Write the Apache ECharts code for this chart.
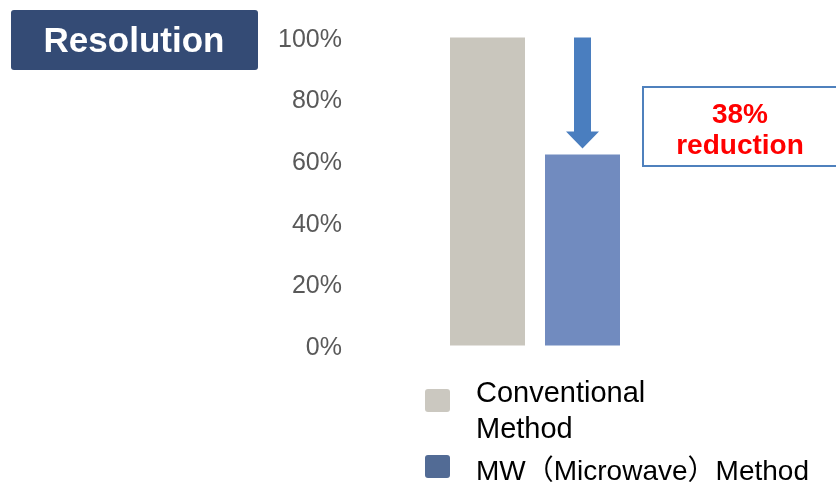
<!DOCTYPE html>
<html>
<head>
<meta charset="utf-8">
<script src="https://cdn.jsdelivr.net/npm/echarts@6/dist/echarts.min.js"></script>
<style>
  html, body { margin: 0; padding: 0; background: #fff; }
  #chart { width: 836px; height: 483px; }
</style>
</head>
<body>
<div id="chart"></div>
<script>
// Resolution time relative to the conventional method
const categories = ['Conventional Method', 'MW（Microwave）Method'];
const values = [1.00, 0.62];
const barColors = ['#c9c6bd', '#718bbf'];
const legendColors = ['#cbc8c0', '#526b95'];
const legendLabels = [['Conventional', 'Method'], ['MW（Microwave）Method']];
const yTicks = [0, 0.2, 0.4, 0.6, 0.8, 1.0];
const titleText = 'Resolution';
const reductionText = '38%\nreduction';

const FONT = '"Liberation Sans", Arial, "Noto Sans CJK JP", sans-serif';

const chart = echarts.init(document.getElementById('chart'), null, { renderer: 'canvas' });

chart.setOption({
  animation: false,
  backgroundColor: '#ffffff',
  grid: { left: 440, width: 190, top: 37.5, height: 308 },
  xAxis: {
    type: 'category',
    data: categories,
    axisLine: { show: false },
    axisTick: { show: false },
    axisLabel: { show: false },
    splitLine: { show: false }
  },
  yAxis: {
    type: 'value',
    min: yTicks[0],
    max: yTicks[yTicks.length - 1],
    interval: 0.2,
    axisLine: { show: false },
    axisTick: { show: false },
    splitLine: { show: false },
    axisLabel: {
      margin: 98,
      formatter: v => '{t|' + Math.round(v * 100) + '%}',
      rich: {
        t: {
          color: '#595959',
          fontSize: 25,
          fontFamily: FONT,
          padding: [5, 0, 0, 0]
        }
      }
    }
  },
  series: [{
    type: 'bar',
    barWidth: 75,
    data: values.map((v, i) => ({ value: v, itemStyle: { color: barColors[i] } }))
  }]
});

// Annotation: arrow from the 100% level down to the reduced bar, title box, legend
const topPt = chart.convertToPixel({ xAxisIndex: 0, yAxisIndex: 0 }, [1, values[0]]);
const lowPt = chart.convertToPixel({ xAxisIndex: 0, yAxisIndex: 0 }, [1, values[1]]);
const cx = lowPt[0];
const yTop = topPt[1];
const yTip = lowPt[1] - 6;
const headLen = 17, shaftHalf = 8.5, headHalf = 16.5;

const legendItems = [];
const legendTops = [389, 455];
const legendTextY = [[394, 430], [472]];
const legendFontSize = [29, 28];
legendLabels.forEach((lines, i) => {
  legendItems.push({
    type: 'rect',
    shape: { x: 425, y: legendTops[i], width: 25, height: 23, r: 3 },
    style: { fill: legendColors[i] }
  });
  lines.forEach((t, j) => {
    legendItems.push({
      type: 'text',
      x: 476, y: legendTextY[i][j],
      style: {
        text: t, fill: '#000', font: legendFontSize[i] + 'px ' + FONT,
        textAlign: 'left', textVerticalAlign: 'middle'
      }
    });
  });
});

chart.setOption({
  graphic: [
    {
      type: 'rect',
      shape: { x: 11, y: 10, width: 247, height: 60, r: 3 },
      style: { fill: '#344b75' }
    },
    {
      type: 'text',
      x: 134, y: 42,
      style: {
        text: titleText, fill: '#ffffff', font: 'bold 35px ' + FONT,
        textAlign: 'center', textVerticalAlign: 'middle'
      }
    },
    {
      type: 'polygon',
      shape: {
        points: [
          [cx - shaftHalf, yTop], [cx + shaftHalf, yTop],
          [cx + shaftHalf, yTip - headLen], [cx + headHalf, yTip - headLen],
          [cx, yTip],
          [cx - headHalf, yTip - headLen], [cx - shaftHalf, yTip - headLen]
        ]
      },
      style: { fill: '#4a7ebf' }
    },
    {
      type: 'rect',
      shape: { x: 643, y: 87, width: 220, height: 79 },
      style: { fill: '#ffffff', stroke: '#4f81bd', lineWidth: 2 }
    },
    {
      type: 'text',
      x: 740, y: 131,
      style: {
        text: reductionText, fill: '#ff0000', font: 'bold 28px ' + FONT,
        lineHeight: 31, textAlign: 'center', textVerticalAlign: 'middle'
      }
    }
  ].concat(legendItems)
});
</script>
</body>
</html>
